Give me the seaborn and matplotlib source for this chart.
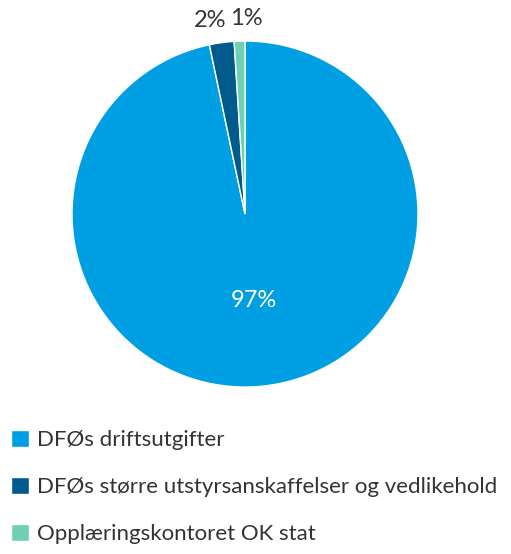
import matplotlib
matplotlib.use("Agg")
import matplotlib.pyplot as plt
import seaborn as sns

# Data
kategorier = ["DFØs driftsutgifter",
              "DFØs større utstyrsanskaffelser og vedlikehold",
              "Opplæringskontoret OK stat"]
andeler = [96.7, 2.3, 1.0]
farger = ["#009fe3", "#005a8c", "#6dcfb6"]

sns.set_style("white")
plt.rcParams["font.family"] = ["Lato", "DejaVu Sans"]

fig = plt.figure(figsize=(5.11, 5.54), dpi=100)
ax = fig.add_axes([0.1409, 0.3014, 0.6771, 0.6245])

wedges, texts, autotexts = ax.pie(
    andeler, colors=farger, startangle=90, counterclock=False,
    autopct="%.0f%%", pctdistance=0.5,
    textprops={"fontsize": 17, "color": "#333333"},
)
ax.set_xlim(-1, 1)
ax.set_ylim(-1, 1)
ax.set_aspect("equal")

# stor andel inne i sektoren, små andeler utenfor
autotexts[0].set_color("white")
for t in autotexts[1:]:
    x, y = t.get_position()
    t.set_position((x * 1.13 / 0.5, y * 1.13 / 0.5))
autotexts[1].set_ha("right")
autotexts[1].set_x(autotexts[1].get_position()[0] + 0.045)
autotexts[2].set_ha("left")
autotexts[2].set_x(autotexts[2].get_position()[0] - 0.05)

fig.legend(wedges, kategorier, loc="upper left", bbox_to_anchor=(0.0, 0.244),
           frameon=False, fontsize=16, labelspacing=1.2, handlelength=0.8,
           handleheight=0.8, handletextpad=0.35, borderaxespad=0.1,
           labelcolor="#333333")

fig.savefig("out.png", dpi=100)
